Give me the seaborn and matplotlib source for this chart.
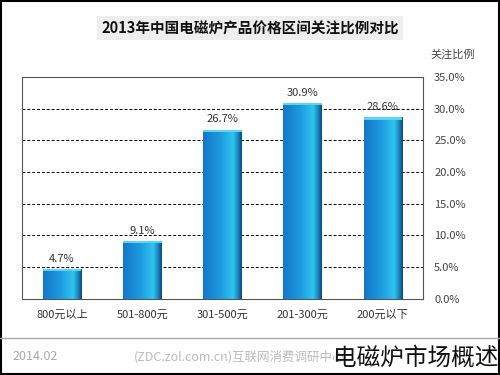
import matplotlib
matplotlib.use("Agg")
import matplotlib.pyplot as plt
import seaborn as sns
import pandas as pd
import numpy as np
from matplotlib.patches import Rectangle
from matplotlib.colors import LinearSegmentedColormap

categories = ["800元以上", "501-800元", "301-500元", "201-300元", "200元以下"]
values = [4.7, 9.1, 26.7, 30.9, 28.6]
yticks = [0, 5, 10, 15, 20, 25, 30, 35]
title = "2013年中国电磁炉产品价格区间关注比例对比"

sns.set_theme(style="white")
plt.rcParams['font.family'] = ['Noto Sans CJK SC', 'DejaVu Sans']

df = pd.DataFrame({"cat": categories, "val": values})

fig = plt.figure(figsize=(5, 3.75), dpi=100)
ax = fig.add_axes([0.044, 0.203, 0.802, 0.592])
sns.barplot(data=df, x="cat", y="val", ax=ax, color="#1b8ed6", width=0.48,
            edgecolor="none", linewidth=0, saturation=1, zorder=3)
ax.set_ylim(0, 35)
xlim = ax.get_xlim()

cmap = LinearSegmentedColormap.from_list(
    "bar", [(0.0, "#1476c8"), (0.45, "#1c9be0"), (0.78, "#30c4ee"), (0.9, "#1a86c2"), (1.0, "#0a4a78")])
grad = np.linspace(0, 1, 256).reshape(1, -1)
for p in ax.patches:
    x0, y0 = p.get_x(), p.get_y()
    w, h = p.get_width(), p.get_height()
    im = ax.imshow(grad, cmap=cmap, aspect="auto", extent=[x0, x0 + w, y0, y0 + h],
                   zorder=3.5, interpolation="bilinear")
    im.set_clip_path(p)
    ax.add_patch(Rectangle((x0, y0 + h - 0.35), w, 0.35, facecolor="#5fd3f3",
                           edgecolor="none", zorder=3.6))
ax.set_xlim(xlim)
ax.set_ylim(0, 35)

ax.set_yticks(yticks)
ax.set_yticklabels([f"{t:.1f}%" for t in yticks], fontsize=8, color="#444444")
ax.yaxis.tick_right()
ax.tick_params(axis='y', length=0, pad=8)
ax.tick_params(axis='x', length=0, pad=8, labelsize=8, labelcolor="#333333")
ax.set_xlabel("")
ax.set_ylabel("")
for y in yticks[1:-1]:
    ax.axhline(y, color="black", linestyle=(0, (3, 2)), linewidth=0.7, zorder=1)
for s in ax.spines.values():
    s.set_color("#555555")
    s.set_linewidth(0.8)
for i, v in enumerate(values):
    ax.text(i, v + 0.8, f"{v}%", ha="center", va="bottom", fontsize=8, color="#333333", zorder=4)

fig.text(0.5, 0.925, title, ha="center", va="center", fontsize=10.5, fontweight="bold",
         color="#111111", bbox=dict(facecolor="#eeeeee", edgecolor="none", pad=3))
fig.text(0.905, 0.855, "关注比例", ha="center", va="center", fontsize=8, color="#444444")
fig.add_artist(plt.Line2D([0.0, 1.0], [0.098, 0.098], transform=fig.transFigure,
                          color="#aaaaaa", linewidth=1))
fig.text(0.07, 0.048, "2014.02", ha="center", va="center", fontsize=9, color="#aaaaaa")
fig.text(0.48, 0.048, "(ZDC.zol.com.cn)互联网消费调研中心", ha="center", va="center",
         fontsize=9, color="#bbbbbb")
fig.text(0.997, 0.045, "电磁炉市场概述", ha="right", va="center", fontsize=17, color="#111111")
fig.add_artist(Rectangle((0.002, 0.003), 0.996, 0.994, transform=fig.transFigure,
                         fill=False, edgecolor="black", linewidth=1.5))
fig.savefig("out.png", dpi=100)
